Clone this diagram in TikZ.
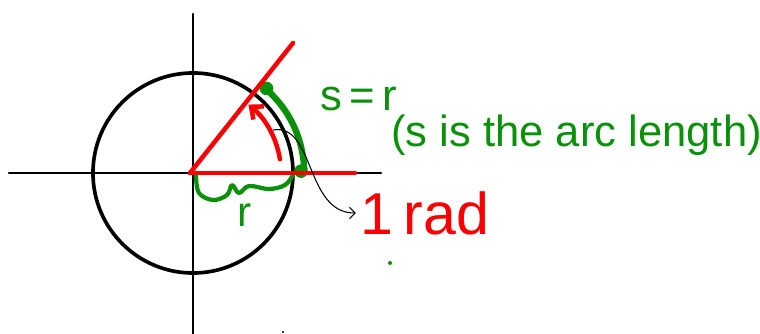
\documentclass[tikz,border=0pt]{standalone}
\usepackage{fontspec}
\setmainfont{Liberation Sans}
\usetikzlibrary{arrows.meta,positioning,calc}
\definecolor{pengreen}{RGB}{10,145,10}
\definecolor{penred}{RGB}{250,0,0}
\tikzset{every picture/.style={line width=0.75pt}}

\begin{document}
\begin{tikzpicture}[x=0.025cm,y=0.025cm,
    axis/.style={line width=1.6pt, line cap=round},
    redpen/.style={penred, line width=3.2pt, line cap=round},
    greenpen/.style={pengreen, line width=3pt, line cap=round, line join=round}]
    \useasboundingbox (-193,-161) rectangle (567,173);
    % Axes
    \draw[axis] (-184,0) -- (188,0);
    \draw[axis] (0,159) -- (0,-161);
    % Circle
    \draw[line width=2.6pt] (0,0) circle[radius=2.5cm];
    % Radius along the axis and the brace
    \draw[greenpen] (-3,0) -- (108,0);
    \draw[greenpen] plot[smooth, tension=0.6] coordinates {(3,-3) (6,-20) (20,-27) (34,-22) (39,-12) (46,-20) (56,-13) (76,-16) (92,-12) (100,-2)};
    \node[pengreen, font=\fontsize{30}{30}\selectfont] (rlabel) at (52,-42) {r};
    % Arc length s
    \draw[greenpen, line width=4.5pt] (0:2.78cm) arc[start angle=0, end angle=49, radius=2.78cm];
    \fill[pengreen] (49:2.8cm) circle[radius=0.17cm];
    \fill[pengreen] (1:2.7cm) circle[radius=0.17cm];
    % Angle of one radian
    \draw[redpen] (-3,0) -- (100,130);
    \draw[redpen] (-3,0) -- (162,0);
    \draw[redpen, -{Straight Barb[length=7pt, width=12pt]}] (9:2.2cm) arc[start angle=9, end angle=51, radius=2.2cm];
    % Labels
    \node[pengreen, font=\fontsize{31}{31}\selectfont] (sr) at (166,74) {s\,=\,r};
    \node[pengreen, font=\fontsize{31}{31}\selectfont, anchor=west] (arclen) at (193,38) {(s is the arc length)};
    \node[penred, font=\fontsize{42}{42}\selectfont] (onerad) at (232,-40) {1\,rad};
    \draw[-{Straight Barb[length=4pt, width=8pt]}] (80,43) .. controls (122,50) and (112,-40) .. (onerad.west);
    % Stray marks
    \fill[pengreen] (197,-90) circle[radius=0.05cm];
    \fill (90,-159) circle[radius=0.03cm];
\end{tikzpicture}
\end{document}
